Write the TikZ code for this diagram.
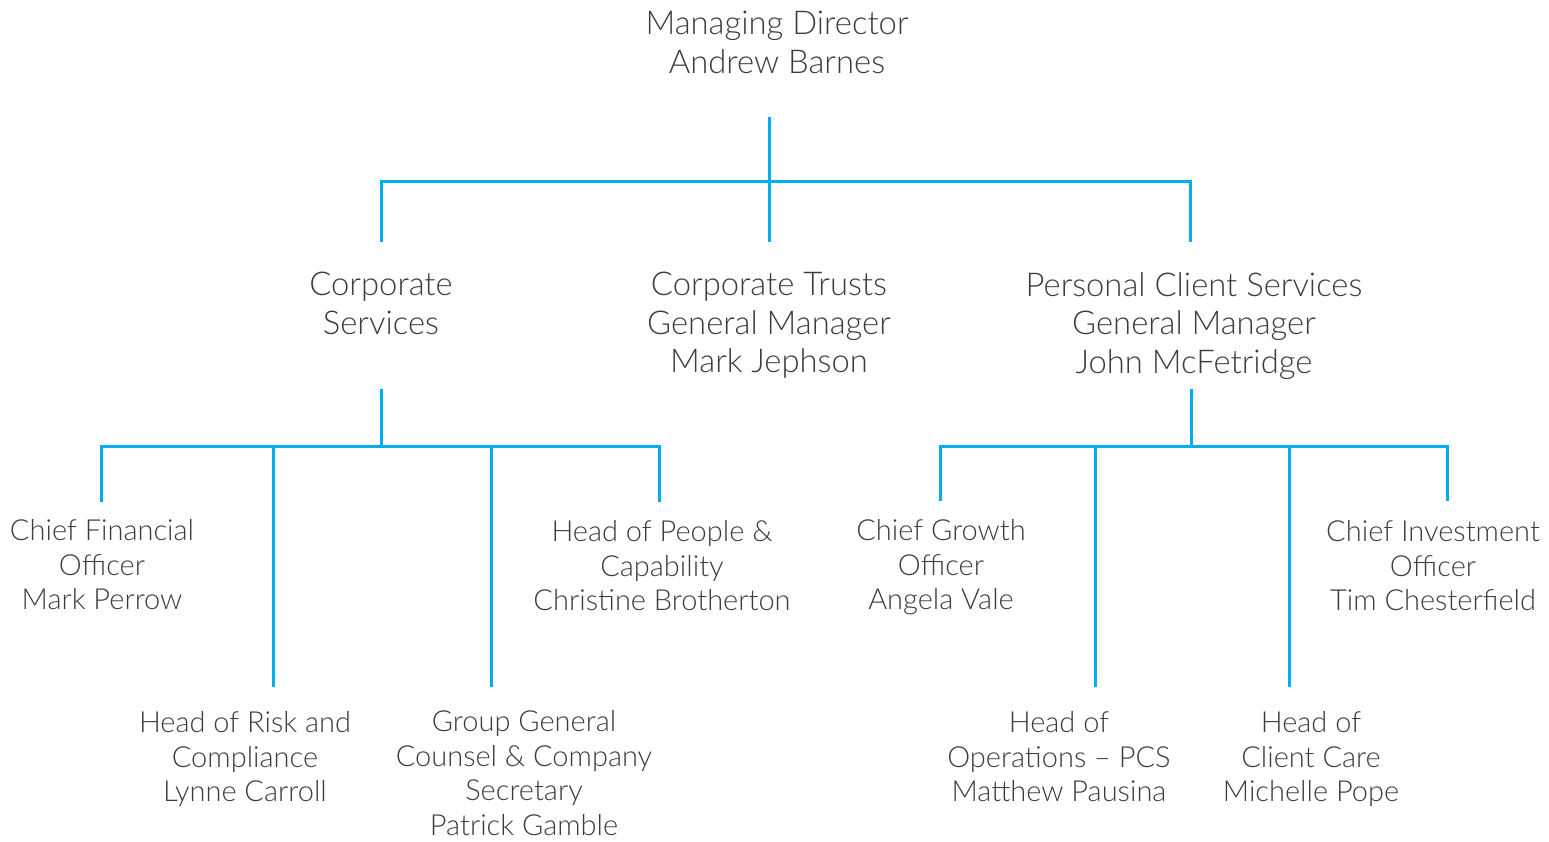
\documentclass[tikz,border=0pt]{standalone}
\usepackage{fontspec}
\setmainfont{Lato Light}
\definecolor{linec}{RGB}{0,174,239}
\definecolor{txtc}{RGB}{60,60,60}
\tikzset{
  big/.style={align=center, text=txtc, font=\fontsize{32.8}{38.5}\selectfont, inner sep=0pt, anchor=north},
  small/.style={align=center, text=txtc, font=\fontsize{29}{34.8}\selectfont, inner sep=0pt, anchor=north},
  conn/.style={draw=linec, line width=3pt}
}
\begin{document}
\begin{tikzpicture}[x=1pt,y=-1pt]
\useasboundingbox (0,0) rectangle (1549,841);
% texts
\node[big] (md) at (777,11) {Managing Director\\Andrew Barnes};
\node[big] (cs) at (381,272) {Corporate\\Services};
\node[big] (ct) at (769,272) {Corporate Trusts\\General Manager\\Mark Jephson};
\node[big] (pcs) at (1194,272) {Personal Client Services\\General Manager\\John McFetridge};
\node[small] (cfo) at (102,519) {Chief Financial\\Officer\\Mark Perrow};
\node[small] (hpc) at (662,520) {Head of People \&\\Capability\\Christine Brotherton};
\node[small] (hrc) at (245,711) {Head of Risk and\\Compliance\\Lynne Carroll};
\node[small] (ggc) at (524,710) {Group General\\Counsel \& Company\\Secretary\\Patrick Gamble};
\node[small] (cgo) at (941,519) {Chief Growth\\Officer\\Angela Vale};
\node[small] (cio) at (1433,520) {Chief Investment\\Officer\\Tim Chesterfield};
\node[small] (hop) at (1059,711) {Head of\\Operations -- PCS\\Matthew Pausina};
\node[small] (hcc) at (1311,711) {Head of\\Client Care\\Michelle Pope};
% coordinates
\coordinate (mdS) at (769,117);
\coordinate (j0) at (769,181);
\coordinate (csN) at (381,242);
\coordinate (ctN) at (769,242);
\coordinate (pcsN) at (1190,242);
\coordinate (csS) at (381,389);
\coordinate (j1) at (381,446);
\coordinate (cfoN) at (101,502);
\coordinate (hrcN) at (273,687);
\coordinate (ggcN) at (491,687);
\coordinate (hpcN) at (659,502);
\coordinate (pcsS) at (1191,389);
\coordinate (j2) at (1191,446);
\coordinate (cgoN) at (940,501);
\coordinate (hopN) at (1095,687);
\coordinate (hccN) at (1289,687);
\coordinate (cioN) at (1447,501);
% connectors
\draw[conn] (mdS) -- (ctN);
\draw[conn] (csN) |- (j0) -| (pcsN);
\draw[conn] (csS) -- (j1);
\draw[conn] (cfoN) |- (j1) -| (hpcN);
\draw[conn] (hrcN) -- (hrcN |- j1);
\draw[conn] (ggcN) -- (ggcN |- j1);
\draw[conn] (pcsS) -- (j2);
\draw[conn] (cgoN) |- (j2) -| (cioN);
\draw[conn] (hopN) -- (hopN |- j2);
\draw[conn] (hccN) -- (hccN |- j2);
\end{tikzpicture}
\end{document}
